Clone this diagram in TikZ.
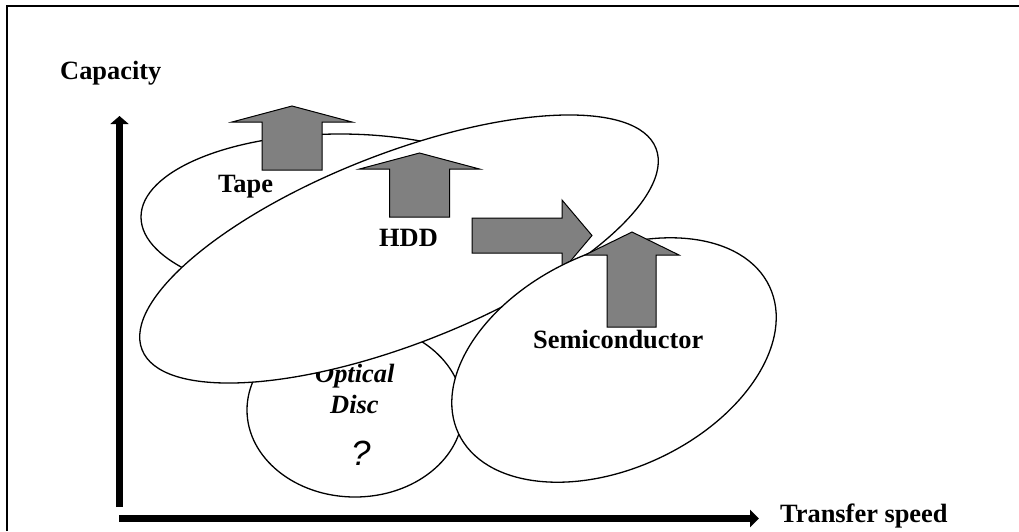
\documentclass[tikz,border=0pt]{standalone}
\usepackage{fontspec}
\setmainfont{Liberation Serif}
\newfontfamily\arialfont{Liberation Sans}
\usetikzlibrary{shapes.geometric,arrows.meta}
\definecolor{arrowgray}{HTML}{808080}
\begin{document}
\begin{tikzpicture}[x=1pt,y=-1pt,
  blob/.style={ellipse, draw=black, fill=white, line width=1.3pt, inner sep=0pt},
  blockarrow/.style={draw=black, fill=arrowgray, line width=1pt, line join=miter},
  lbl/.style={font=\bfseries\fontsize{26.4}{30}\selectfont, inner sep=0pt, anchor=base west},
  ilbl/.style={font=\bfseries\itshape\fontsize{26.4}{30}\selectfont, inner sep=0pt, anchor=base west},
  axisline/.style={line width=7pt}]
\useasboundingbox (0,0) rectangle (1019,531);
% frame
\coordinate (fbl) at (7,531);
\coordinate (ftl) at (7,6);
\coordinate (ftr) at (1019,6);
\draw[line width=1.8pt, line join=miter] (fbl) -- (ftl) -- (ftr);
% axes
\coordinate (ybot) at (119.5,507);
\coordinate (ytop) at (119.5,116);
\draw[axisline, -{Triangle[length=8pt,width=18pt]}] (ybot) -- (ytop);
\coordinate (xleft) at (119,518.5);
\coordinate (xright) at (759,518.5);
\draw[axisline, -{Triangle[length=9pt,width=17pt]}] (xleft) -- (xright);
\node[lbl] (capacity) at (60,79) {Capacity};
\node[lbl] (speed) at (780,522) {Transfer speed};
% tape
\node[blob, minimum width=398pt, minimum height=166pt] (tape) at (340,217) {};
\draw[blockarrow] (262,170) -- (262,122) -- (232,122) -- (292,106) -- (352,122) -- (322,122) -- (322,170) -- cycle;
\node[lbl] (tapelbl) at (218,192) {Tape};
% optical
\node[blob, minimum width=216pt, minimum height=174pt] (optical) at (355,410) {};
\node[ilbl] (optlbl) at (315,382) {Optical};
\node[ilbl] (disclbl) at (330,413) {Disc};
\node[inner sep=0pt, anchor=base west, font=\arialfont\itshape\fontsize{35}{40}\selectfont] (qlbl) at (351,465) {?};
% hdd
\node[blob, minimum width=552pt, minimum height=190pt, rotate=21.4] (hdd) at (399,249) {};
\draw[blockarrow] (389.5,217) -- (389.5,169) -- (359.5,169) -- (419.5,153) -- (479.5,169) -- (449.5,169) -- (449.5,217) -- cycle;
\node[lbl] (hddlbl) at (379,246) {HDD};
\draw[blockarrow] (472,218) -- (562,218) -- (562,200) -- (592,235.5) -- (562,271) -- (562,253) -- (472,253) -- cycle;
% semiconductor
\node[blob, minimum width=344pt, minimum height=216pt, rotate=25.3] (semi) at (614,360) {};
\draw[blockarrow] (607,327) -- (607,255) -- (585,255) -- (632,232) -- (679,255) -- (656,255) -- (656,327) -- cycle;
\node[lbl] (semilbl) at (533,348) {Semiconductor};
\end{tikzpicture}
\end{document}
